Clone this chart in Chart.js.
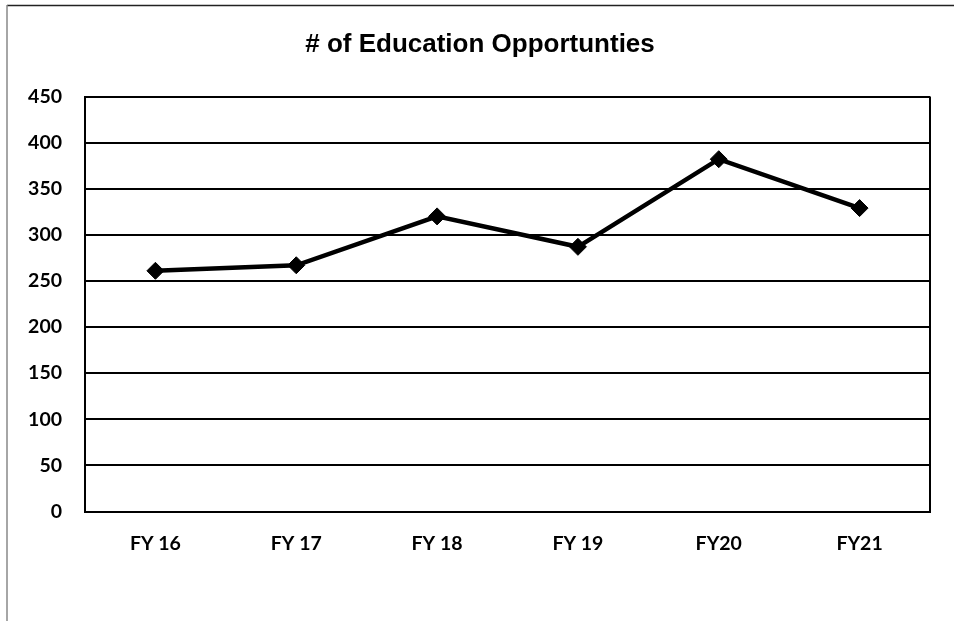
<!DOCTYPE html>
<html>
<head>
<meta charset="utf-8">
<script src="https://cdn.jsdelivr.net/npm/chart.js@4/dist/chart.umd.min.js"></script>
<style>
  html, body { margin: 0; padding: 0; background: #fff; }
  #wrap { width: 954px; height: 621px; position: relative; }
</style>
</head>
<body>
<div id="wrap"><canvas id="c" width="954" height="621"></canvas></div>
<script>
const chartTitle = '# of Education Opportunties';
const categories = ['FY 16', 'FY 17', 'FY 18', 'FY 19', 'FY20', 'FY21'];
const opportunities = [261, 267, 320, 287, 382, 329];
const yTicks = [0, 50, 100, 150, 200, 250, 300, 350, 400, 450];

const tickFont = { family: 'Lato, "Open Sans", sans-serif', weight: 'bold', size: 19.5 };

// Outer frame of the figure and the closing right edge of the plot area
const framePlugin = {
  id: 'frame',
  beforeDraw(chart) {
    const ctx = chart.ctx;
    ctx.save();
    ctx.fillStyle = '#fff';
    ctx.fillRect(0, 0, chart.width, chart.height);
    ctx.lineWidth = 1.5;
    ctx.strokeStyle = '#222';
    ctx.beginPath();
    ctx.moveTo(7, 5.5);
    ctx.lineTo(954, 5.5);
    ctx.stroke();
    ctx.strokeStyle = '#888';
    ctx.beginPath();
    ctx.moveTo(7, 5);
    ctx.lineTo(7, 621);
    ctx.stroke();
    ctx.restore();
  },
  beforeDatasetsDraw(chart) {
    const a = chart.chartArea;
    const ctx = chart.ctx;
    ctx.save();
    ctx.strokeStyle = '#000';
    ctx.lineWidth = 2;
    ctx.beginPath();
    ctx.moveTo(a.right, a.top);
    ctx.lineTo(a.right, a.bottom);
    ctx.stroke();
    ctx.restore();
  }
};

// Title drawn centred over the figure
const titlePlugin = {
  id: 'topTitle',
  afterDraw(chart) {
    const ctx = chart.ctx;
    ctx.save();
    ctx.font = 'bold 26px "Liberation Sans", Arial, sans-serif';
    ctx.fillStyle = '#000';
    ctx.textAlign = 'center';
    ctx.textBaseline = 'middle';
    ctx.fillText(chartTitle, 480, 45);
    ctx.restore();
  }
};

new Chart(document.getElementById('c'), {
  type: 'line',
  data: {
    labels: categories,
    datasets: [{
      label: chartTitle,
      data: opportunities,
      borderColor: '#000',
      backgroundColor: '#000',
      borderWidth: 4.5,
      pointStyle: 'rectRot',
      pointRadius: 8.5,
      pointHoverRadius: 8.5,
      pointBorderWidth: 1,
      pointBackgroundColor: '#000',
      pointBorderColor: '#000',
      tension: 0,
      fill: false
    }]
  },
  options: {
    responsive: false,
    animation: false,
    devicePixelRatio: 1,
    layout: { padding: { top: 96.5, right: 24, bottom: 0, left: 0 } },
    plugins: {
      legend: { display: false },
      title: { display: false },
      tooltip: { enabled: false }
    },
    scales: {
      x: {
        offset: true,
        grid: { display: false, drawTicks: false },
        border: { display: true, color: '#000', width: 2 },
        ticks: { color: '#000', font: tickFont, padding: 21, maxRotation: 0 },
        afterFit(scale) { scale.height = 109.5; }
      },
      y: {
        min: 0,
        max: 450,
        afterBuildTicks(scale) { scale.ticks = yTicks.map(v => ({ value: v })); },
        grid: { color: '#000', lineWidth: 2, drawTicks: false },
        border: { display: true, color: '#000', width: 2 },
        ticks: { color: '#000', font: tickFont, padding: 23 },
        afterFit(scale) { scale.width = 85; }
      }
    }
  },
  plugins: [framePlugin, titlePlugin]
});
</script>
</body>
</html>
